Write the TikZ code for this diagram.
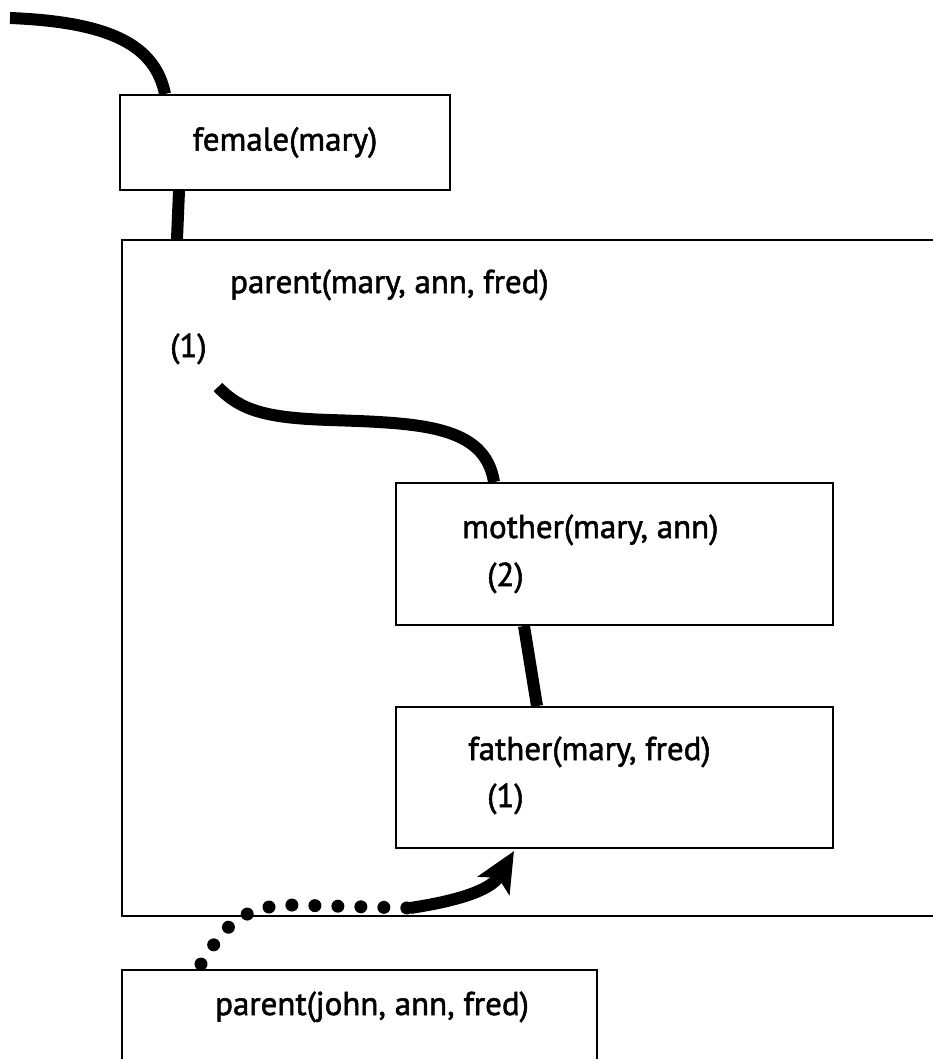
\documentclass[tikz,border=0pt]{standalone}
\usepackage{fontspec}
\setmainfont{PT Sans}
\newfontfamily\boxfont{PT Sans}[FakeBold=1.6]
\usetikzlibrary{arrows.meta,calc}
\begin{document}
\begin{tikzpicture}[x=1pt,y=-1pt,
	box/.style={draw,line width=2pt,inner sep=0pt},
	link/.style={line width=12pt},
	txt/.style={inner sep=0pt,anchor=base west,font=\boxfont\fontsize{33}{40}\selectfont}]
	\useasboundingbox (0,0) rectangle (933,1059);
	\node[box,minimum width=330,minimum height=95,font=\boxfont\fontsize{33}{40}\selectfont] (female) at (285,142.5) {female(mary)};
	\node[box,minimum width=838,minimum height=676] (clause) at (541,578) {};
	\node[box,minimum width=437,minimum height=142] (mother) at (614.5,554) {};
	\node[box,minimum width=437,minimum height=141] (father) at (614.5,777.5) {};
	\node[box,minimum width=475,minimum height=120] (query) at (359.5,1030) {};
	\node[txt] (head) at (230,293) {parent(mary, ann, fred)};
	\node[txt] (hnum) at (170,357) {(1)};
	\node[txt] (mtxt) at (462,538) {mother(mary, ann)};
	\node[txt] (mnum) at (487,586) {(2)};
	\node[txt] (ftxt) at (468,760) {father(mary, fred)};
	\node[txt] (fnum) at (487,807) {(1)};
	\node[txt] (qtxt) at (215,1015) {parent(john, ann, fred)};
	\coordinate (entry) at (10,18);
	\coordinate (back) at (218,387);
	\coordinate (turn) at (410,908);
	\draw[link] (entry) .. controls (110,22) and (155,45) .. ($(female.north west)+(46,0)$);
	\draw[link] ($(female.south west)+(60,0)$) -- ($(clause.north west)+(56,0)$);
	\draw[link] (back) .. controls (240,410) and (265,418) .. (330,420)
		.. controls (420,423) and (485,425) .. ($(mother.north west)+(99,0)$);
	\draw[link] ($(mother.south west)+(129,0)$) -- ($(father.north west)+(142,0)$);
	% retry path
	\draw[line width=13pt,line cap=round,dash pattern=on 0pt off 23pt] ($(query.north west)+(80,-5)$)
		.. controls (220,935) and (235,906) .. (290,905) -- (turn);
	\draw[link,-{Stealth[length=40pt,width=36pt,inset=9pt]}] (turn)
		.. controls (450,902) and (490,892) .. ($(father.south west)+(119,2)$);
\end{tikzpicture}
\end{document}
